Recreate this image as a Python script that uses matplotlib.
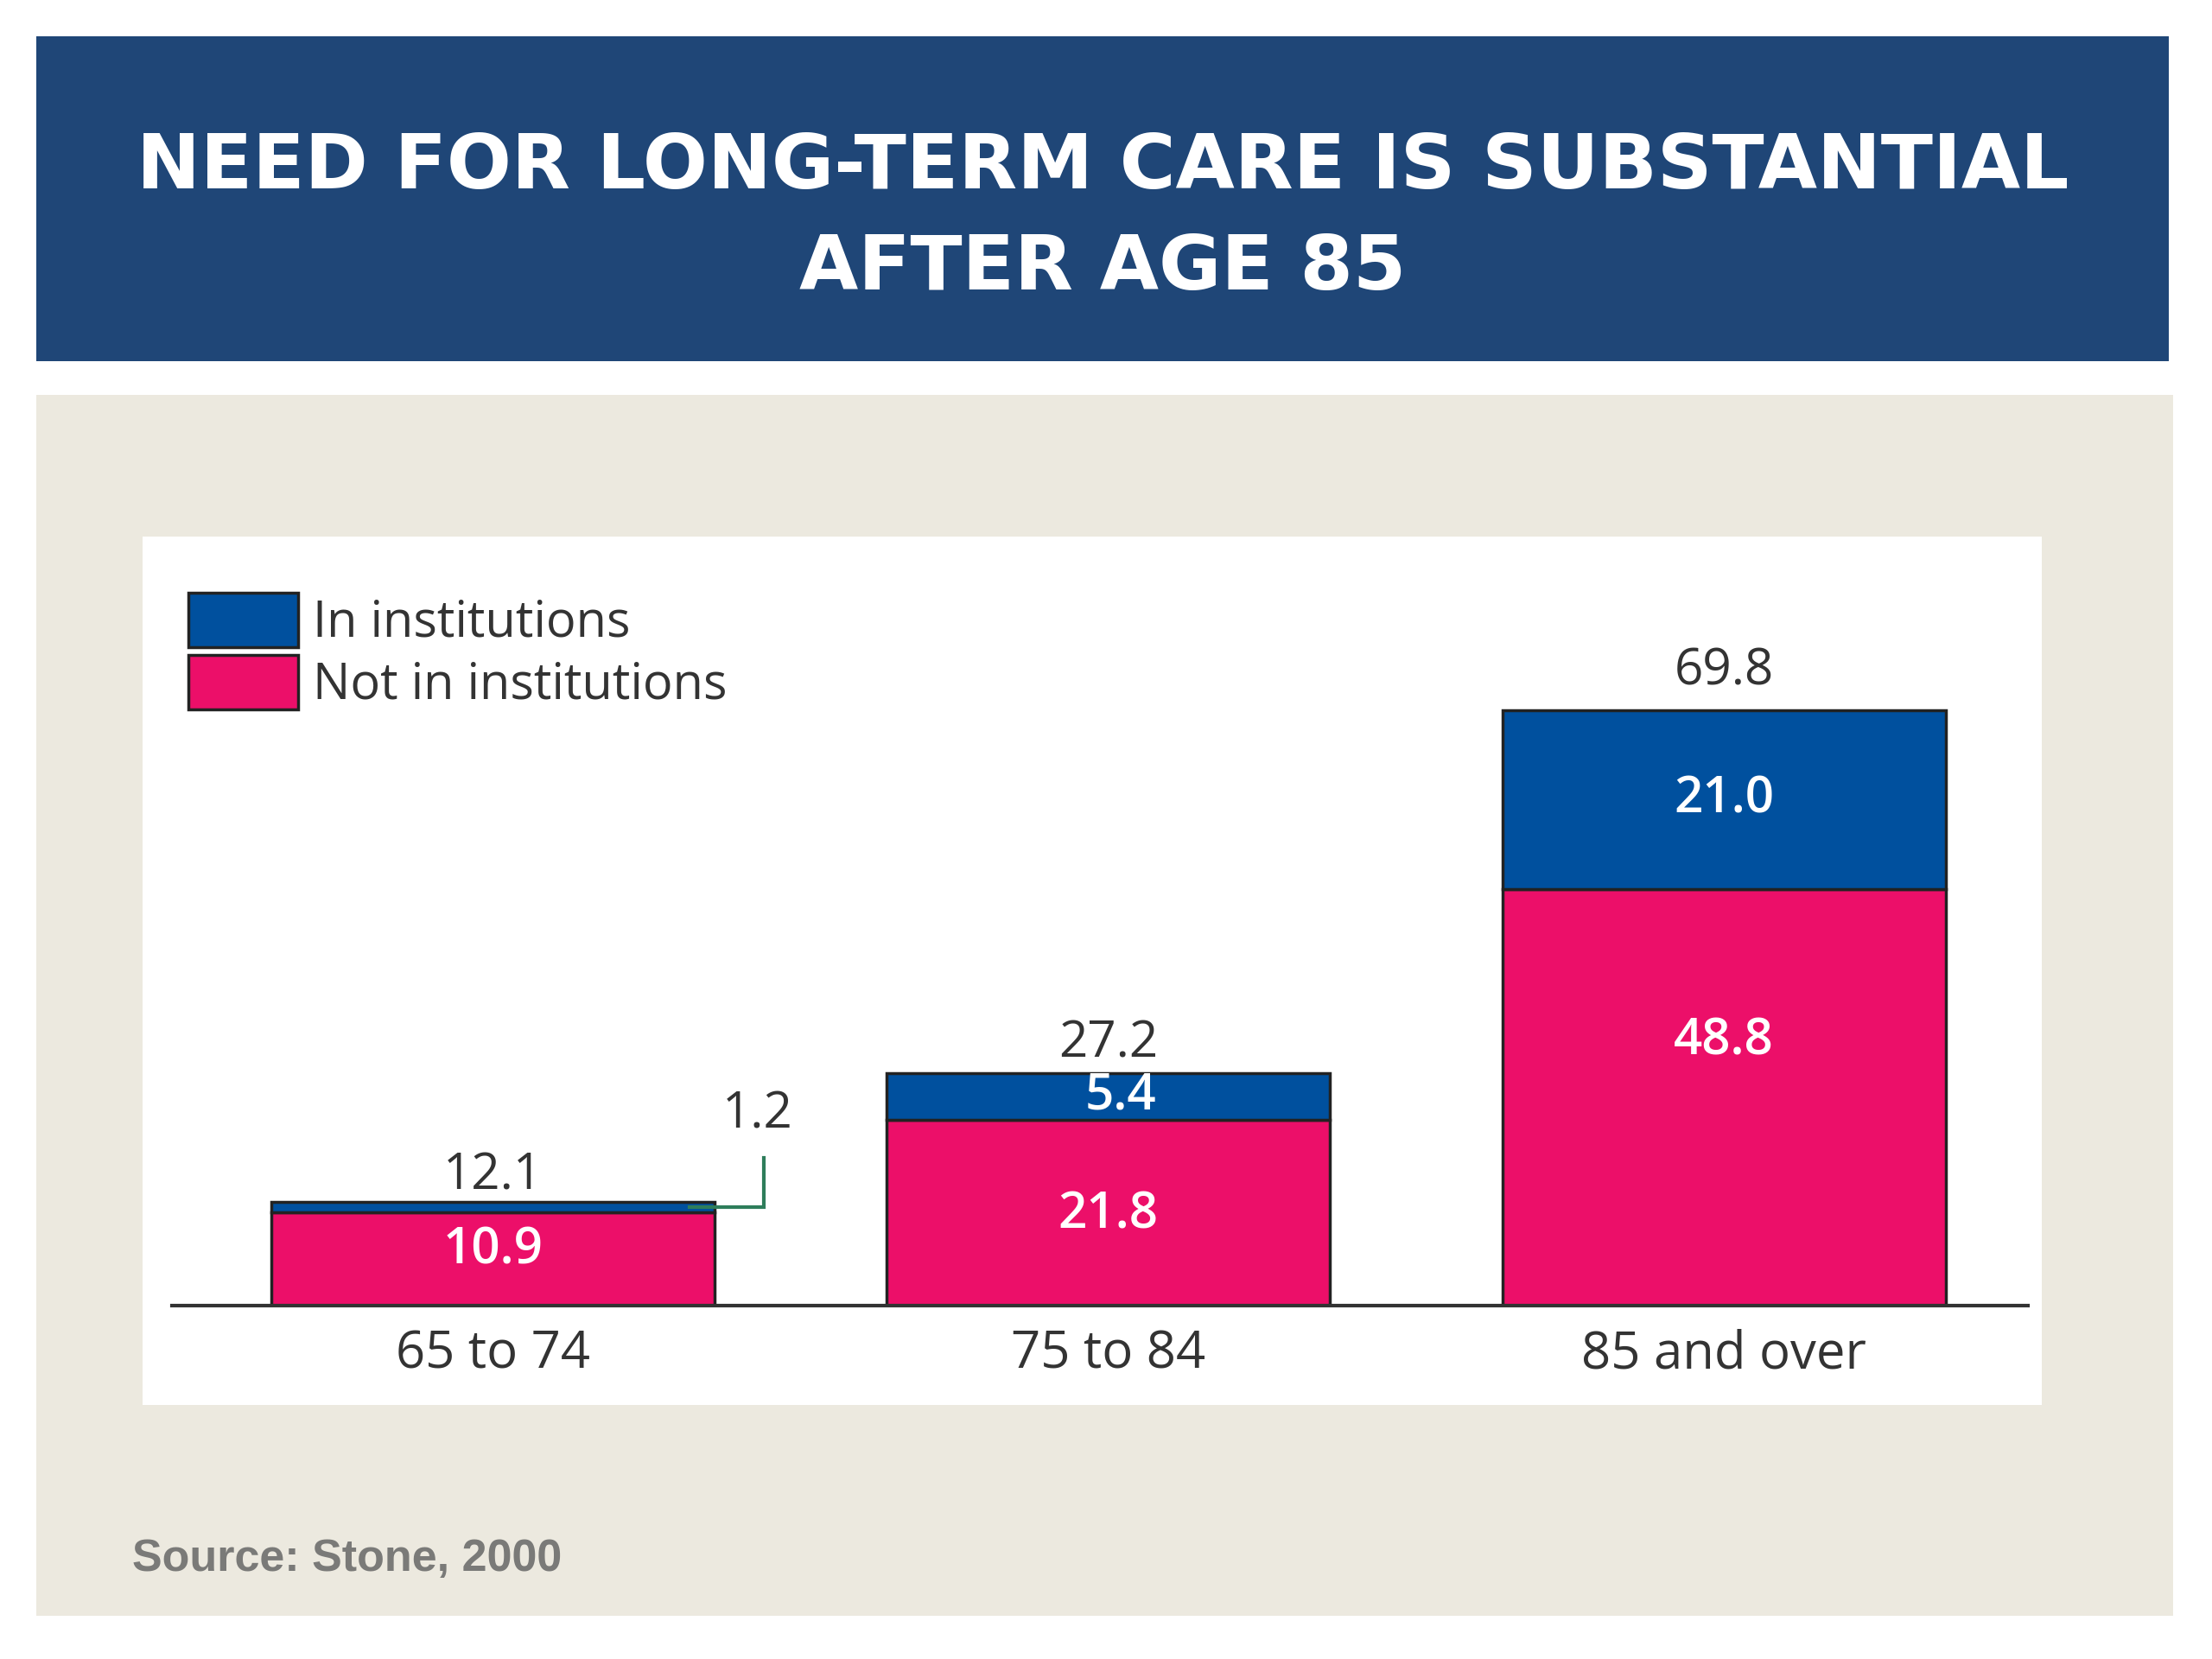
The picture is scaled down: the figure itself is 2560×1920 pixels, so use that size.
import numpy as np
import matplotlib
matplotlib.use("Agg")
import matplotlib.pyplot as plt
from matplotlib.patches import Rectangle

# data
groups = ["65 to 74", "75 to 84", "85 and over"]
not_in_inst = [10.9, 21.8, 48.8]
in_inst = [1.2, 5.4, 21.0]
totals = [12.1, 27.2, 69.8]

title_lines = ["NEED FOR LONG-TERM CARE IS SUBSTANTIAL", "AFTER AGE 85"]
source = "Source: Stone, 2000"

BLUE = "#00509E"
PINK = "#EC0F69"
NAVY = "#1F4677"
BEIGE = "#ECE9DF"
TXT = "#333333"

W, H = 2560, 1920
fig = plt.figure(figsize=(W / 100, H / 100), dpi=100)
fig.patch.set_facecolor("white")


def box(x0, y0, x1, y1, color):
    # pixel coords, origin top-left
    fig.add_artist(Rectangle((x0 / W, 1 - y1 / H), (x1 - x0) / W, (y1 - y0) / H,
                             transform=fig.transFigure, facecolor=color,
                             edgecolor="none", zorder=0))


def ftext(x, y, s, **kw):
    fig.text(x / W, 1 - y / H, s, **kw)


# banner + panels
box(42, 42, 2510, 418, NAVY)
box(42, 457, 2515, 1870, BEIGE)
box(165, 621, 2363, 1626, "white")

for yy, line in zip([194, 311], title_lines):
    ftext(1276, yy, line, color="white", fontsize=63.5, fontweight="bold",
          ha="center", va="center", family="DejaVu Sans")
ftext(153, 1804, source, color="#7a7a78", fontsize=37.5, fontweight="bold",
      ha="left", va="center", family="Liberation Sans")

# chart axes
ax = fig.add_axes([199 / W, 1 - 1511 / H, 2148 / W, 890 / H])
ax.set_facecolor("none")
x = np.arange(len(groups))
bw = 0.72
ax.bar(x, not_in_inst, bw, color=PINK, edgecolor="#222222", linewidth=2.5,
       label="Not in institutions", zorder=2)
ax.bar(x, in_inst, bw, bottom=not_in_inst, color=BLUE, edgecolor="#222222",
       linewidth=2.5, label="In institutions", zorder=2)
ax.set_xlim(-0.521, 2.494)
ax.set_ylim(0, 90.1)
for s in ["top", "right", "left"]:
    ax.spines[s].set_visible(False)
ax.spines["bottom"].set_linewidth(3)
ax.spines["bottom"].set_color("#333333")
ax.set_yticks([])
ax.set_xticks(x)
ax.set_xticklabels(groups, fontsize=43, color=TXT, family="Open Sans")
ax.tick_params(axis="x", length=0, pad=19)

fnt = dict(fontsize=42, family="Open Sans")
# value labels
pink_label_y = [6.4, 10.6, 30.9]
total_gap = [3.1, 3.4, 4.5]
for i in range(len(groups)):
    ax.text(x[i], totals[i] + total_gap[i], "%.1f" % totals[i], ha="center",
            va="center", color=TXT, **fnt)
    ax.text(x[i], pink_label_y[i], "%.1f" % not_in_inst[i], ha="center",
            va="center", color="white", fontweight="semibold", **fnt)
    if in_inst[i] > 3:
        ax.text(x[i] + (0.02 if i == 1 else 0), not_in_inst[i] + in_inst[i] / 2,
                "%.1f" % in_inst[i], ha="center", va="center", color="white",
                fontweight="semibold", **fnt)

# leader for the thin 1.2 segment
mid = not_in_inst[0] + in_inst[0] / 2
ax.plot([0.32, 0.44, 0.44], [mid, mid, 17.3], color="#2E7D5B", lw=3,
        zorder=3, solid_joinstyle="miter")
ax.text(0.43, 22.3, "%.1f" % in_inst[0], ha="center", va="center", color=TXT, **fnt)

# legend
h, l = ax.get_legend_handles_labels()
leg = ax.legend(h[::-1], l[::-1], loc="upper left", bbox_to_anchor=(-0.01, 0.972),
                frameon=False, prop={"family": "Open Sans", "size": 41.5},
                handlelength=2.2, handleheight=1.3, handletextpad=0.3,
                labelspacing=0.12, labelcolor=TXT, borderaxespad=0.3)

fig.savefig("out.png", dpi=100)
